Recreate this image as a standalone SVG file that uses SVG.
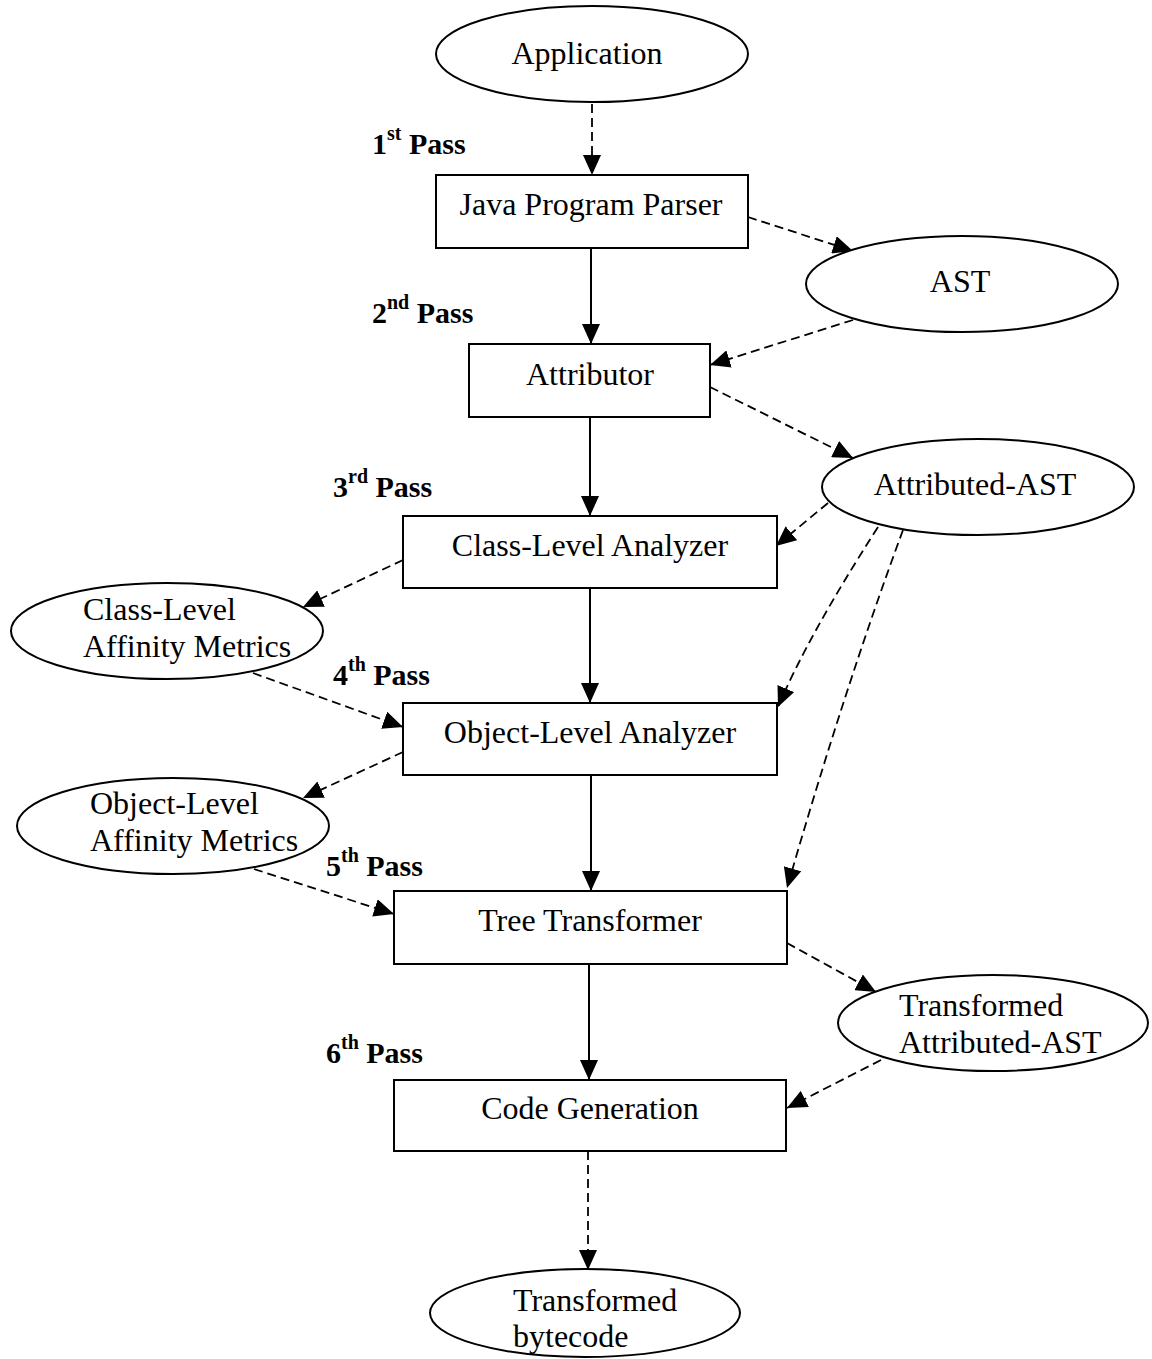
<svg xmlns="http://www.w3.org/2000/svg" width="1152" height="1359" viewBox="0 0 1152 1359">
<defs>
<marker id="ah" markerUnits="userSpaceOnUse" markerWidth="20" markerHeight="18" refX="20" refY="9" orient="auto">
<path d="M0,0 L20,9 L0,18 z" fill="#000"/>
</marker>
<style>
.box{fill:#fff;stroke:#000;stroke-width:2}
.ell{fill:#fff;stroke:#000;stroke-width:2}
.t{font-family:"Liberation Serif","Times New Roman",serif;font-size:32px;fill:#000}
.c{text-anchor:middle}
.pass{font-family:"Liberation Serif","Times New Roman",serif;font-size:30px;font-weight:bold;fill:#000}
.sup{font-size:20px}
.solid{fill:none;stroke:#000;stroke-width:2;marker-end:url(#ah)}
.dash{fill:none;stroke:#000;stroke-width:1.8;stroke-dasharray:9,5;marker-end:url(#ah)}
</style>
</defs>
<rect width="1152" height="1359" fill="#fff"/>

<g id="connectors">
<path class="dash" d="M592,104 L592,175"/>
<path class="solid" d="M591,248 L591,344"/>
<path class="solid" d="M590,417 L590,516"/>
<path class="solid" d="M590,588 L590,703"/>
<path class="solid" d="M591,775 L591,891"/>
<path class="solid" d="M589,964 L589,1080"/>
<path class="dash" d="M588,1151 L588,1270"/>
<path class="dash" d="M748,217 L853,251"/>
<path class="dash" d="M853,320 L710,365"/>
<path class="dash" d="M710,387 L853,458"/>
<path class="dash" d="M828,503 L776,546"/>
<path class="dash" d="M878,527 Q808,636 778,707"/>
<path class="dash" d="M903,530 Q844,690 787,888"/>
<path class="dash" d="M403,560 L303,607"/>
<path class="dash" d="M253,673 L403,727"/>
<path class="dash" d="M403,752 L303,798"/>
<path class="dash" d="M254,869 L394,914"/>
<path class="dash" d="M787,943 L876,992"/>
<path class="dash" d="M881,1060 L787,1108"/>
</g>

<g id="application">
<ellipse class="ell" cx="592" cy="54" rx="156" ry="48"/>
<text class="t c" x="587" y="64">Application</text>
</g>
<g id="parser">
<rect class="box" x="436" y="175" width="312" height="73"/>
<text class="t c" x="591" y="215">Java Program Parser</text>
</g>
<g id="ast">
<ellipse class="ell" cx="962" cy="284" rx="156" ry="48"/>
<text class="t c" x="960" y="292">AST</text>
</g>
<g id="attributor">
<rect class="box" x="469" y="344" width="241" height="73"/>
<text class="t c" x="590" y="385">Attributor</text>
</g>
<g id="attributed-ast">
<ellipse class="ell" cx="978" cy="487" rx="156" ry="48"/>
<text class="t c" x="975" y="495">Attributed-AST</text>
</g>
<g id="class-analyzer">
<rect class="box" x="403" y="516" width="374" height="72"/>
<text class="t c" x="590" y="556">Class-Level Analyzer</text>
</g>
<g id="class-metrics">
<ellipse class="ell" cx="167" cy="631" rx="156" ry="48"/>
<text class="t" x="83" y="620">Class-Level</text>
<text class="t" x="83" y="657">Affinity Metrics</text>
</g>
<g id="object-analyzer">
<rect class="box" x="403" y="703" width="374" height="72"/>
<text class="t c" x="590" y="743">Object-Level Analyzer</text>
</g>
<g id="object-metrics">
<ellipse class="ell" cx="173" cy="826" rx="156" ry="48"/>
<text class="t" x="90" y="814">Object-Level</text>
<text class="t" x="90" y="851">Affinity Metrics</text>
</g>
<g id="tree-transformer">
<rect class="box" x="394" y="891" width="393" height="73"/>
<text class="t c" x="590" y="931">Tree Transformer</text>
</g>
<g id="transformed-ast">
<ellipse class="ell" cx="993" cy="1023" rx="155" ry="48"/>
<text class="t" x="899" y="1016">Transformed</text>
<text class="t" x="899" y="1053">Attributed-AST</text>
</g>
<g id="code-generation">
<rect class="box" x="394" y="1080" width="392" height="71"/>
<text class="t c" x="590" y="1119">Code Generation</text>
</g>
<g id="bytecode">
<ellipse class="ell" cx="585" cy="1313" rx="155" ry="44"/>
<text class="t" x="513" y="1311">Transformed</text>
<text class="t" x="513" y="1347">bytecode</text>
</g>

<g id="pass-labels">
<text class="pass" x="372" y="154">1<tspan class="sup" dy="-14">st</tspan><tspan dy="14"> Pass</tspan></text>
<text class="pass" x="372" y="323">2<tspan class="sup" dy="-14">nd</tspan><tspan dy="14"> Pass</tspan></text>
<text class="pass" x="333" y="497">3<tspan class="sup" dy="-14">rd</tspan><tspan dy="14"> Pass</tspan></text>
<text class="pass" x="333" y="685">4<tspan class="sup" dy="-14">th</tspan><tspan dy="14"> Pass</tspan></text>
<text class="pass" x="326" y="876">5<tspan class="sup" dy="-14">th</tspan><tspan dy="14"> Pass</tspan></text>
<text class="pass" x="326" y="1063">6<tspan class="sup" dy="-14">th</tspan><tspan dy="14"> Pass</tspan></text>
</g>
</svg>
